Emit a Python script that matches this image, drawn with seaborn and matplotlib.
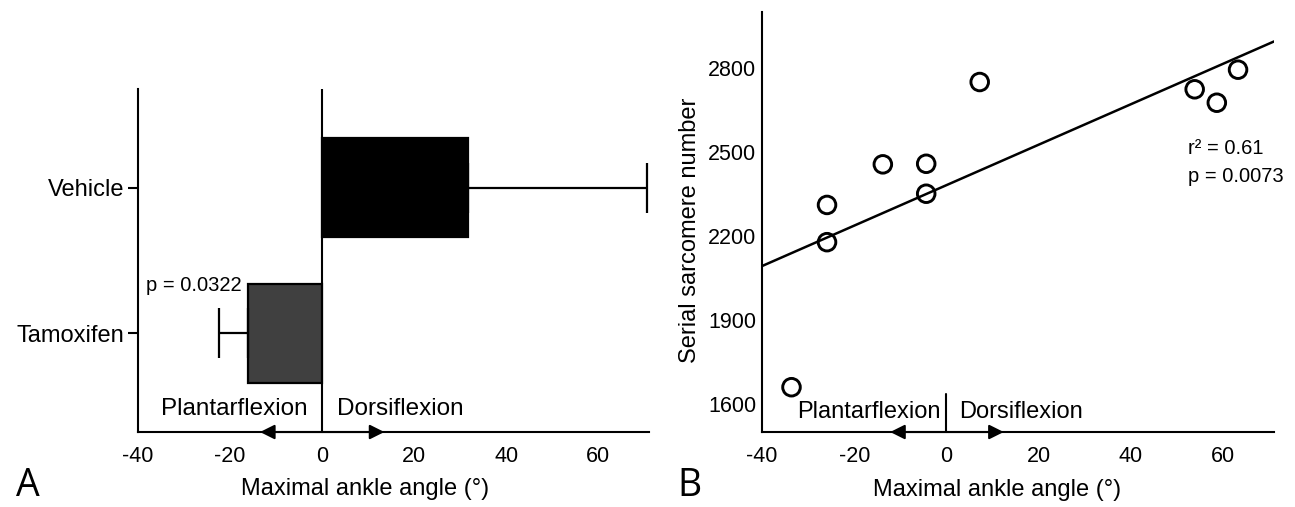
import matplotlib
matplotlib.use("Agg")
import matplotlib.pyplot as plt
import seaborn as sns
import pandas as pd

# panel A: maximal ankle angle per group (mean, one-sided SD)
groups = ["Vehicle", "Tamoxifen"]
angle_mean = [31.7, -16.2]
angle_sd = [38.8, 6.2]
bar_colors = ["#000000", "#404040"]

# panel B: individual animals
angle_pts = [-33.6, -25.9, -25.9, -13.8, -4.4, -4.4, 7.2, 53.8, 58.6, 63.2]
sarcomere_pts = [1660, 2311, 2178, 2456, 2458, 2351, 2750, 2724, 2676, 2794]

x_ticks = [-40, -20, 0, 20, 40, 60]
y_ticks_b = [1600, 1900, 2200, 2500, 2800]

sns.set_style("ticks")
plt.rcParams["font.family"] = ["Liberation Sans", "DejaVu Sans"]
plt.rcParams["axes.linewidth"] = 1.5
plt.rcParams["axes.unicode_minus"] = False
for key in ["text.color", "axes.labelcolor", "xtick.color", "ytick.color", "axes.edgecolor"]:
    plt.rcParams[key] = "black"

fig = plt.figure(figsize=(12.95, 5.07), dpi=100)
ax1 = fig.add_axes([0.1066, 0.1479, 0.3946, 0.6765])
ax2 = fig.add_axes([0.5884, 0.1479, 0.3954, 0.8284])

# ---- A: horizontal bars
df_a = pd.DataFrame({"group": groups, "angle": angle_mean})
sns.barplot(data=df_a, x="angle", y="group", hue="group", palette=bar_colors,
            orient="h", width=0.676, edgecolor="black", linewidth=1.6,
            errorbar=None, legend=False, ax=ax1)
# one-sided error bars (away from zero)
for i, (m, sd) in enumerate(zip(angle_mean, angle_sd)):
    err = [[0], [sd]] if m > 0 else [[sd], [0]]
    ax1.errorbar([m], [i], xerr=err, fmt="none", ecolor="black",
                 elinewidth=1.6, capsize=18, capthick=1.6, clip_on=False)

ax1.set_xlim(-40, 71)
ax1.set_ylim(1.676, -0.676)
ax1.axvline(0, color="black", lw=1.5)
ax1.set_xticks(x_ticks)
ax1.tick_params(axis="x", length=0, pad=10, labelsize=15.5)
ax1.tick_params(axis="y", length=7, width=1.5, pad=3, labelsize=17)
ax1.set_ylabel("")
ax1.set_xlabel("Maximal ankle angle (°)", fontsize=17)
ax1.xaxis.set_label_coords(0.444, -0.135)
ax1.text(-17.5, 0.67, "p = 0.0322", ha="right", va="center", fontsize=14.5)
ax1.text(-3.2, 1.52, "Plantarflexion", ha="right", va="center", fontsize=17.5)
ax1.text(3.2, 1.52, "Dorsiflexion", ha="left", va="center", fontsize=17.5)
for end in (-13.5, 13.5):
    ax1.annotate("", xy=(end, 1.676), xytext=(0, 1.676),
                 arrowprops=dict(arrowstyle="-|>", color="black", lw=1.5,
                                 mutation_scale=22, shrinkA=0, shrinkB=0),
                 annotation_clip=False)
sns.despine(ax=ax1)

# ---- B: scatter with regression line
df_b = pd.DataFrame({"angle": angle_pts, "ssn": sarcomere_pts})
ax2.set_xlim(-40, 71)
ax2.set_ylim(1500, 3000)
sns.scatterplot(data=df_b, x="angle", y="ssn", marker="o", s=160,
                facecolors="none", edgecolor="black", linewidth=2.1, ax=ax2,
                zorder=3)
sns.regplot(data=df_b, x="angle", y="ssn", scatter=False, ci=None,
            truncate=False, color="black", line_kws={"lw": 1.8}, ax=ax2)
ax2.set_xlim(-40, 71)
ax2.set_ylim(1500, 3000)
ax2.plot([0, 0], [1500, 1635], color="black", lw=1.5)
ax2.set_xticks(x_ticks)
ax2.set_yticks(y_ticks_b)
ax2.tick_params(axis="x", length=0, pad=10, labelsize=15.5)
ax2.tick_params(axis="y", length=0, pad=4, labelsize=15.5)
ax2.set_xlabel("Maximal ankle angle (°)", fontsize=17)
ax2.xaxis.set_label_coords(0.459, -0.112)
ax2.set_ylabel("Serial sarcomere number", fontsize=17)
ax2.yaxis.set_label_coords(-0.119, 0.481)
ax2.text(52.4, 2511, "r² = 0.61", ha="left", va="center", fontsize=14.5)
ax2.text(52.4, 2414, "p = 0.0073", ha="left", va="center", fontsize=14.5)
ax2.text(-1.2, 1571, "Plantarflexion", ha="right", va="center", fontsize=17)
ax2.text(2.7, 1571, "Dorsiflexion", ha="left", va="center", fontsize=17)
for end in (-12.2, 12.4):
    ax2.annotate("", xy=(end, 1500), xytext=(0, 1500),
                 arrowprops=dict(arrowstyle="-|>", color="black", lw=1.5,
                                 mutation_scale=22, shrinkA=0, shrinkB=0),
                 annotation_clip=False)
sns.despine(ax=ax2)

# panel letters
fig.text(0.012, 0.004, "A", fontsize=27, family="Open Sans", ha="left", va="bottom")
fig.text(0.523, 0.004, "B", fontsize=27, family="Open Sans", ha="left", va="bottom")

fig.savefig("out.png", dpi=100)
